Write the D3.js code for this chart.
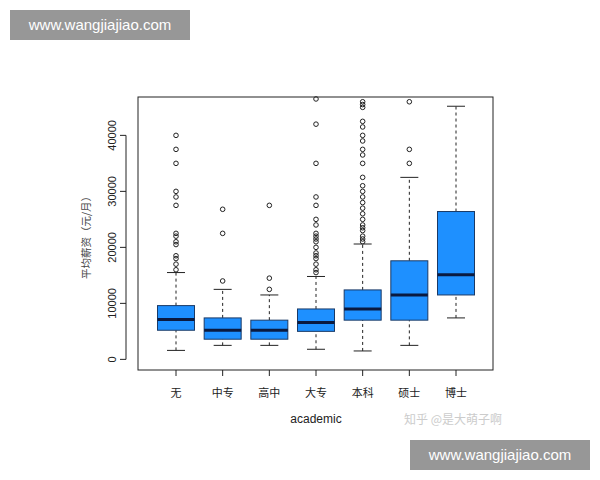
<!DOCTYPE html><html><head><meta charset="utf-8">
<script src="https://cdn.jsdelivr.net/npm/d3@7"></script>
<style>body{margin:0;background:#fff}</style></head><body>
<svg id="c" width="600" height="480"></svg>
<script>
const categories=["无","中专","高中","大专","本科","硕士","博士"];
const lowWhisker=[1600,2500,2500,1800,1500,2500,7400];
const q1=[5200,3600,3600,5000,7000,7000,11500];
const medians=[7100,5200,5200,6600,9000,11500,15100];
const q3=[9600,7400,7000,9000,12400,17600,26400];
const highWhisker=[15500,12500,11500,14800,20600,32500,45200];
const outliers=[
 [16000,17000,18000,18500,20500,21000,22000,22500,27500,29000,30000,35000,37500,40000],
 [14000,22500,26800],
 [12500,14500,27500],
 [15500,16000,17000,18000,18500,19000,20000,21000,21500,22000,22500,24000,25000,27500,29000,35000,42000,46500],
 [21000,21500,22000,23000,23500,24000,25000,26000,27000,28000,29000,30000,31000,32500,35000,36500,37500,39000,40000,41500,42500,45000,45500,46000],
 [35000,37500,46000],
 []
];
const yTicks=[0,10000,20000,30000,40000];
const svg=d3.select("#c");
const L=138,R=493,T=97,B=370;
const x=d3.scalePoint().domain(categories).range([176,456]);
const y=d3.scaleLinear().domain([-1900,46850]).range([B,T]);
const bw=37;
svg.append("rect").attr("x",L).attr("y",T).attr("width",R-L).attr("height",B-T).attr("fill","none").attr("stroke","#222");
categories.forEach((c,i)=>{
 const cx=x(c),g=svg.append("g");
 g.append("line").attr("x1",cx).attr("x2",cx).attr("y1",y(lowWhisker[i])).attr("y2",y(q1[i])).attr("stroke","#222").attr("stroke-dasharray","3,3");
 g.append("line").attr("x1",cx).attr("x2",cx).attr("y1",y(q3[i])).attr("y2",y(highWhisker[i])).attr("stroke","#222").attr("stroke-dasharray","3,3");
 [lowWhisker[i],highWhisker[i]].forEach(v=>g.append("line").attr("x1",cx-9).attr("x2",cx+9).attr("y1",y(v)).attr("y2",y(v)).attr("stroke","#222"));
 g.append("rect").attr("x",cx-bw/2).attr("width",bw).attr("y",y(q3[i])).attr("height",y(q1[i])-y(q3[i])).attr("fill","#1E90FF").attr("stroke","#1a3a66");
 g.append("line").attr("x1",cx-bw/2).attr("x2",cx+bw/2).attr("y1",y(medians[i])).attr("y2",y(medians[i])).attr("stroke","#0a1a40").attr("stroke-width",3);
 outliers[i].forEach(v=>g.append("circle").attr("cx",cx).attr("cy",y(v)).attr("r",2.3).attr("fill","none").attr("stroke","#222"));
});
const xa=svg.append("g");
categories.forEach(c=>{
 xa.append("line").attr("x1",x(c)).attr("x2",x(c)).attr("y1",B).attr("y2",B+6).attr("stroke","#222");
 xa.append("text").attr("x",x(c)).attr("y",B+27).attr("text-anchor","middle").attr("font-family","Noto Sans CJK SC").attr("font-size",11).attr("fill","#222").text(c);
});
const ya=svg.append("g");
ya.append("line").attr("x1",L-12).attr("x2",L-12).attr("y1",y(0)).attr("y2",y(40000)).attr("stroke","#222");
yTicks.forEach(v=>{
 ya.append("line").attr("x1",L-18).attr("x2",L-12).attr("y1",y(v)).attr("y2",y(v)).attr("stroke","#222");
 ya.append("text").attr("transform",`translate(${L-22},${y(v)}) rotate(-90)`).attr("text-anchor","middle").attr("font-family","Liberation Sans").attr("font-size",11).attr("fill","#222").text(v);
});
svg.append("text").attr("transform",`translate(90,235) rotate(-90)`).attr("text-anchor","middle").attr("font-family","Noto Sans CJK SC").attr("font-size",10.5).attr("fill","#444").text("平均薪资（元/月）");
svg.append("text").attr("x",316).attr("y",423).attr("text-anchor","middle").attr("font-family","Liberation Sans").attr("font-size",12).attr("fill","#222").text("academic");
svg.append("text").attr("x",404).attr("y",424).attr("font-family","Noto Sans CJK SC").attr("font-size",12).attr("fill","#ccc").text("知乎 @是大萌子啊");
[[10,10],[410,440]].forEach(([wx,wy])=>{
 svg.append("rect").attr("x",wx).attr("y",wy).attr("width",180).attr("height",30).attr("fill","#8c8c8c").attr("opacity",0.9);
 svg.append("text").attr("x",wx+90).attr("y",wy+20).attr("text-anchor","middle").attr("font-family","Liberation Sans").attr("font-size",15).attr("fill","#fff").text("www.wangjiajiao.com");
});
</script></body></html>
